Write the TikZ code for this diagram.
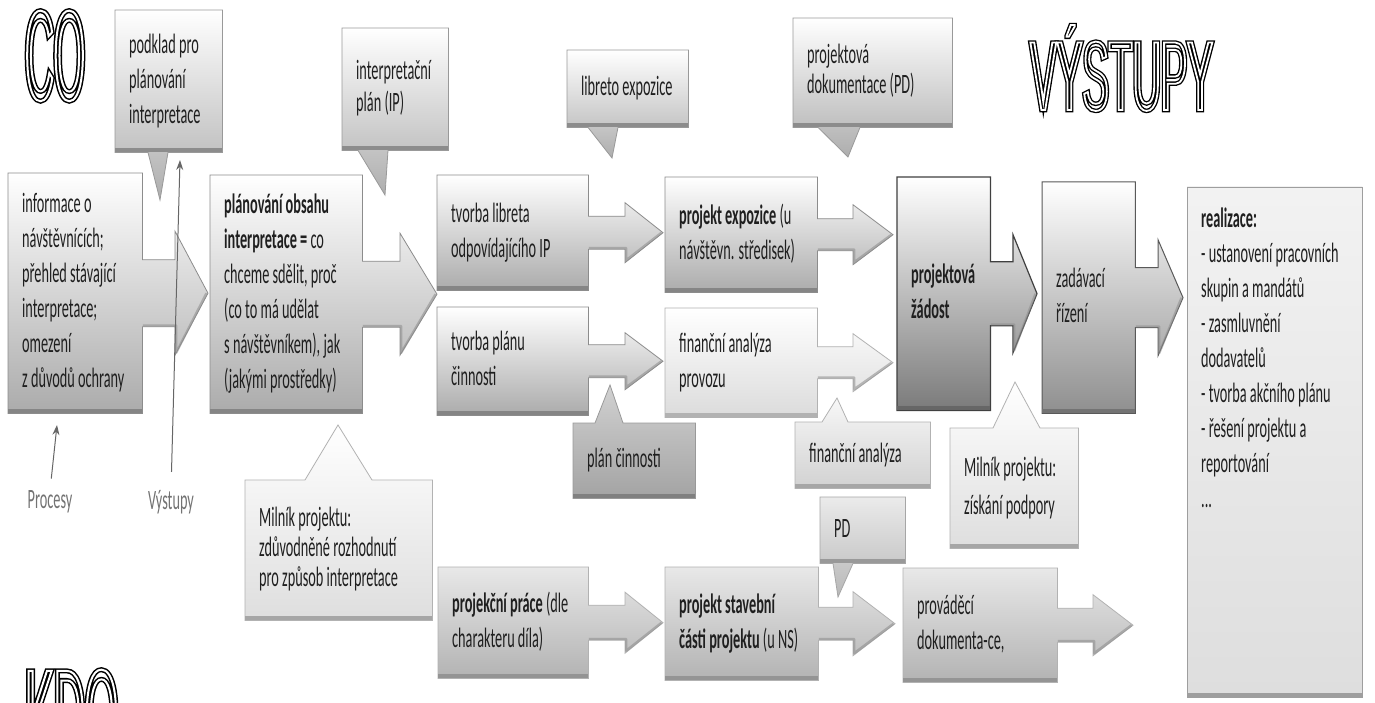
\documentclass[tikz,border=0pt]{standalone}
\usepackage{fontspec}
\setmainfont[FakeStretch=0.51]{Carlito}
\newfontfamily\cofont[FakeStretch=0.31]{Liberation Sans}
\newfontfamily\kdofont[FakeStretch=0.335]{Liberation Sans}
\newfontfamily\vyfont[FakeStretch=0.40]{Liberation Sans}
\usetikzlibrary{calc,arrows.meta}
\pgfdeclarelayer{bg}
\pgfsetlayers{bg,main}
\newcommand\tl[2]{\makebox[#1pt][l]{\begin{tabular}{@{}l@{}}#2\end{tabular}}}
\newcommand\outl[2]{\special{pdf:literal direct 1 Tr #1 w}#2\special{pdf:literal direct 0 Tr}}
% box + block arrow: #1 box node, #2 target, #3 shaft half, #4 head half, #5 head length, #6 style
\newcommand\procshape[6]{%
\path[#6] let \p1=(#1.north west), \p2=(#1.south east), \p3=(#1.east), \p4=(#2) in
 (\x1,\y1) -- (\x2,\y1) -- (\x2,\y3+#3pt) -- (\x4-#5pt,\y3+#3pt) -- (\x4-#5pt,\y3+#4pt) -- (\x4,\y3)
 -- (\x4-#5pt,\y3-#4pt) -- (\x4-#5pt,\y3-#3pt) -- (\x2,\y3-#3pt) -- (\x2,\y2) -- (\x1,\y2) -- cycle;
\draw[bevel] let \p3=(#1.east), \p4=(#2) in
 ([xshift=-1.5pt]\x4,\y3) -- (\x4-#5pt+1.2pt,\y3-#4pt+2.5pt) -- (\x4-#5pt+1.2pt,\y3-#3pt+1.2pt) -- (\x3+0.5pt,\y3-#3pt+1.2pt);}
% callout with tail below: #1 node, #2 base left x, #3 base right x, #4 tip, #5 style
\newcommand\callb[5]{%
\path[#5] let \p1=(#1.north west), \p2=(#1.south east), \p4=(#4) in
 (\x1,\y1) -- (\x2,\y1) -- (\x2,\y2) -- (#3pt,\y2) -- (\x4,\y4) -- (#2pt,\y2) -- (\x1,\y2) -- cycle;}
% callout with tail above
\newcommand\callt[5]{%
\path[#5] let \p1=(#1.north west), \p2=(#1.south east), \p4=(#4) in
 (\x1,\y1) -- (#2pt,\y1) -- (\x4,\y4) -- (#3pt,\y1) -- (\x2,\y1) -- (\x2,\y2) -- (\x1,\y2) -- cycle;}
\newcommand\strip[2]{\fill[#2] (#1.south west) rectangle ([yshift=4.5pt]#1.south east);}
\begin{document}
\begin{tikzpicture}[x=1pt,y=-1pt,
  tb/.style 2 args={anchor=north west, inner xsep=14pt, inner ysep=0pt,
    minimum width=#1pt, minimum height=#2pt, font=\fontsize{28}{35}\selectfont, text=black!88},
  sp30/.style={font=\fontsize{28}{30}\selectfont},
  sp32/.style={font=\fontsize{28}{32}\selectfont},
  sp38/.style={font=\fontsize{28}{38}\selectfont},
  lbl/.style={inner sep=0pt, font=\fontsize{28}{35}\selectfont, text=black!55},
  lblarrow/.style={draw=black!60, line width=1pt, -{Stealth[length=10pt,width=7pt]}},
  bevel/.style={draw=black!45, draw opacity=0.55, line width=2.4pt, line join=round},
  procmid/.style={shade, top color=white, bottom color=black!33, draw=black!45, line width=0.8pt},
  proclight/.style={shade, top color=white, bottom color=black!14, draw=black!30, line width=0.8pt},
  procdark/.style={shade, top color=white, bottom color=black!52, draw=black!75, line width=1.2pt},
  procdark2/.style={shade, top color=white, bottom color=black!44, draw=black!65, line width=1pt},
  proclow/.style={shade, top color=black!9, bottom color=black!30, draw=black!30, line width=0.8pt},
  realbox/.style={shade, top color=black!5, bottom color=black!13, draw=black!38, line width=0.8pt},
  calldark/.style={shade, top color=white, bottom color=black!32, draw=black!40, line width=0.8pt},
  callgray/.style={shade, top color=black!18, bottom color=black!36, draw=black!40, line width=0.8pt},
  callmed/.style={shade, top color=black!8, bottom color=black!28, draw=black!35, line width=0.8pt},
  callpale/.style={shade, top color=white, bottom color=black!13, draw=black!30, line width=0.8pt},
  calllight/.style={shade, top color=black!3, bottom color=black!18, draw=black!30, line width=0.8pt}
]
\useasboundingbox (0,0) rectangle (1375,703);

% ---------- process boxes ----------
\node[tb={134}{240}] (A) at (8,173) {\tl{106}{informace o\\návštěvnících;\\přehled stávající\\interpretace;\\omezení\\z~důvodů ochrany}};
\node[tb={152}{238}] (B) at (210,175) {\tl{124}{\textbf{plánování obsahu}\\\textbf{interpretace =} co\\chceme sdělit, proč\\(co to má udělat\\s~návštěvníkem), jak\\(jakými prostředky)}};
\node[tb={151}{115}] (C) at (437,175) {\tl{123}{tvorba libreta\\odpovídajícího IP}};
\node[tb={152}{115}] (D) at (665,177) {\tl{124}{\textbf{projekt expozice} (u\\návštěvn. středisek)}};
\node[tb={151}{108}] (E) at (437,307) {\tl{123}{tvorba plánu\\činnosti}};
\node[tb={152}{109}] (F) at (665,308) {\tl{124}{finanční analýza\\provozu}};
\node[tb={93}{233}] (G) at (897,177) {\tl{65}{\textbf{projektová}\\\textbf{žádost}}};
\node[tb={93}{231}] (H) at (1042,182) {\tl{65}{zadávací\\řízení}};
\node[tb={175}{510}] (I) at (1187,187) {\raisebox{75pt}[0pt][0pt]{\tl{147}{\textbf{realizace:}\\- ustanovení pracovních\\skupin a mandátů\\- zasmluvnění\\dodavatelů\\- tvorba akčního plánu\\- řešení projektu a\\reportování\\...}}};
\node[tb={150}{111}] (J) at (438,567) {\tl{122}{\textbf{projekční práce} (dle\\charakteru díla)}};
\node[tb={153}{113}] (K) at (665,567) {\tl{125}{\textbf{projekt stavební}\\\textbf{části projektu} (u NS)}};
\node[tb={154}{114}] (L) at (903,568) {\tl{126}{prováděcí\\dokumenta-ce,}};
\coordinate (Lend) at (1133,625);

% ---------- callouts ----------
\node[tb={107}{142}] (c1) at (115,10) {\tl{79}{podklad pro\\plánování\\interpretace}};
\node[tb={106}{122},sp32] (c2) at (342,28) {\tl{78}{interpretační\\plán (IP)}};
\node[tb={121}{77}] (c3) at (567,50) {\tl{93}{libreto expozice}};
\node[tb={159}{109},sp30] (c4) at (793,18) {\tl{131}{projektová\\dokumentace (PD)}};
\node[tb={122}{75}] (c5) at (573,423) {\tl{94}{plán činnosti}};
\node[tb={135}{66}] (c6) at (795,422) {\tl{107}{finanční analýza}};
\node[tb={128}{120},sp38] (c7) at (950,428) {\tl{100}{Milník projektu:\\získání podpory}};
\node[tb={187}{140},sp30] (c8) at (245,480) {\tl{159}{Milník projektu:\\zdůvodněné rozhodnutí\\pro způsob interpretace}};
\node[tb={85}{66}] (c9) at (820,497) {\tl{57}{PD}};
\coordinate (t1) at (160,200);
\coordinate (t2) at (385,195);
\coordinate (t3) at (612,158);
\coordinate (t4) at (848,157);
\coordinate (t5) at (610,385);
\coordinate (t6) at (837,398);
\coordinate (t7) at (1015,382);
\coordinate (t8) at (338,425);
\coordinate (t9) at (838,597);

% ---------- legend labels ----------
\node[lbl] (proc) at (50,502) {Procesy};
\node[lbl] (vyst) at (171,502) {Výstupy};
\coordinate (procTip) at (57,425);
\coordinate (vystTip) at (180,160);
\draw[lblarrow, shorten <=12pt] (proc.north) -- (procTip);
\draw[lblarrow, shorten <=18pt] (vyst.north) -- (vystTip);

\begin{pgfonlayer}{bg}
\fill[white] (0,0) rectangle (1375,703);
% process shapes with block arrows (connectors)
\procshape{A}{[xshift=-2pt]B.west}{33.5}{62}{33}{procmid}
\strip{A}{black!48}
\procshape{B}{C.south west}{33}{61}{37}{procmid}
\strip{B}{black!48}
\procshape{C}{[xshift=-2pt]D.west}{16.5}{30}{38}{procmid}
\strip{C}{black!48}
\procshape{D}{[xshift=-4pt]G.west}{16}{30}{40}{procmid}
\strip{D}{black!48}
\procshape{E}{[xshift=-2pt]F.west}{16.5}{28.5}{38}{procmid}
\strip{E}{black!48}
\procshape{F}{[xshift=-4pt]G.west}{16}{29}{40}{proclight}
\strip{F}{black!30}
\procshape{G}{[xshift=-5pt]H.west}{32}{59}{24}{procdark}
\strip{G}{black!60}
\procshape{H}{[xshift=-4pt]I.west}{30}{58}{25}{procdark2}
\strip{H}{black!55}
\path[realbox] (I.north west) rectangle (I.south east);
\strip{I}{black!38}
\procshape{J}{[xshift=-2pt]K.west}{17.5}{30.5}{38}{proclow}
\strip{J}{black!42}
\procshape{K}{[xshift=-8pt]L.west}{16.5}{32}{42}{proclow}
\strip{K}{black!42}
\procshape{L}{Lend}{17}{30.5}{40}{proclow}
\strip{L}{black!42}
% callouts
\callb{c1}{148}{168}{t1}{calldark}
\strip{c1}{black!45}
\callb{c2}{358}{388}{t2}{calldark}
\strip{c2}{black!45}
\callb{c3}{588}{618}{t3}{calldark}
\strip{c3}{black!45}
\callb{c4}{818}{860}{t4}{calldark}
\strip{c4}{black!45}
\callt{c5}{595}{623}{t5}{callgray}
\strip{c5}{black!50}
\callt{c6}{822}{848}{t6}{calllight}
\strip{c6}{black!35}
\callt{c7}{993}{1040}{t7}{callpale}
\strip{c7}{black!35}
\callt{c8}{305}{372}{t8}{callpale}
\strip{c8}{black!35}
\callb{c9}{833}{853}{t9}{callmed}
\strip{c9}{black!40}
\end{pgfonlayer}

% ---------- outlined titles ----------
\node[anchor=base west, inner sep=0pt, font=\cofont\fontsize{128}{128}\selectfont] (co) at (25,100)
  {\rlap{\outl{5}{CO}}\textcolor{white}{\outl{2}{CO}}};
\node[anchor=base west, inner sep=0pt, font=\vyfont\fontsize{98}{98}\selectfont] (vy) at (1030,110)
  {\rlap{\outl{4.5}{VÝSTUPY}}\textcolor{white}{\outl{1.8}{VÝSTUPY}}};
\begin{scope}
\clip (0,0) rectangle (1375,703);
\node[anchor=base west, inner sep=0pt, font=\kdofont\fontsize{128}{128}\selectfont] (kdo) at (25,759)
  {\rlap{\outl{5}{KDO}}\textcolor{white}{\outl{2}{KDO}}};
\end{scope}
\end{tikzpicture}
\end{document}
